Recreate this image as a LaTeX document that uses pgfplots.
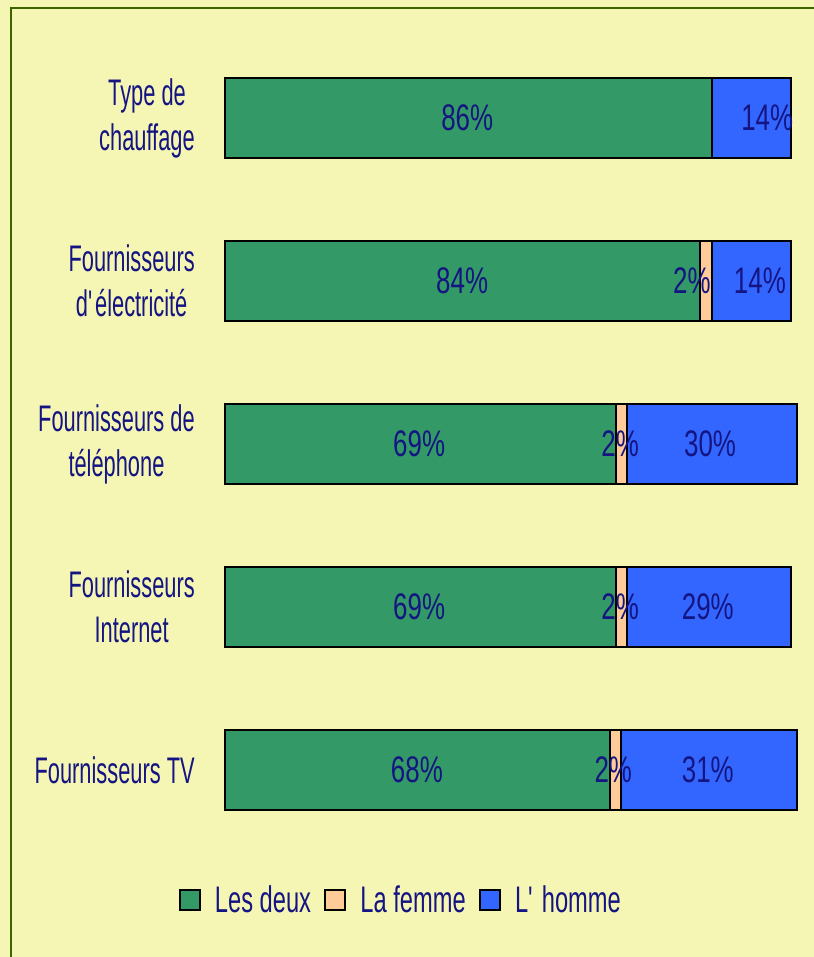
\documentclass[border=0pt]{standalone}
\usepackage{pgfplots}
\usepackage{pgfplotstable}
\pgfplotsset{compat=1.18}
\usepackage{fontspec}
\setmainfont{Liberation Sans}[FakeStretch=0.59]
\newfontfamily\labfont{Liberation Sans}[FakeStretch=0.70]
\newfontfamily\legfont{Liberation Sans}[FakeStretch=0.64]
\definecolor{bg}{RGB}{246,246,180}
\definecolor{framec}{RGB}{60,100,0}
\definecolor{cgreen}{RGB}{51,153,102}
\definecolor{cpeach}{RGB}{255,204,153}
\definecolor{cblue}{RGB}{51,102,255}
\definecolor{txt}{RGB}{20,20,130}
\newcommand{\fsz}{\fontsize{27.75pt}{33.75pt}\selectfont}

\pgfplotstableread{
y deux femme homme
0 86 0 14
1 84 2 14
2 69 2 30
3 69 2 29
4 68 2 31
}\bars

\pgfplotstableread{
x y lab
42.8 0 86
95.8 0 14
41.9 1 84
82.5 1 2
94.5 1 14
34.3 2 69
69.8 2 2
85.7 2 30
34.3 3 69
69.8 3 2
85.3 3 29
33.9 4 68
68.6 4 2
85.3 4 31
}\labels

\begin{document}
\begin{tikzpicture}
\useasboundingbox (0pt,0pt) rectangle (610.5pt,-717.75pt);
\fill[bg] (0pt,0pt) rectangle (610.5pt,-717.75pt);
\draw[framec, line width=1.6pt] (8.25pt,-6pt) rectangle (640pt,-760pt);
\begin{axis}[
  at={(168.75pt,-27.375pt)}, anchor=north west,
  scale only axis, width=424.5pt, height=611.25pt,
  xmin=0, xmax=100, ymin=-0.5, ymax=4.5, y dir=reverse,
  xbar stacked, bar width=0.49,
  axis line style={draw=none},
  xtick=\empty, ytick={0,...,4},
  yticklabels={{Type de\\chauffage},{Fournisseurs\\d\textquotesingle{}électricité},{Fournisseurs de\\téléphone},{Fournisseurs\\Internet},{Fournisseurs TV}},
  major tick length=0pt,
  yticklabel style={align=center, font=\fsz, text=txt, inner sep=0pt, xshift=-22.5pt},
  clip=false,
  legend columns=3,
  legend style={at={(0.309,-0.0595)}, anchor=center, draw=none, fill=none,
    font=\fsz\legfont, text=txt,
    nodes={inner sep=0pt},
    /tikz/every odd column/.append style={column sep=10.5pt},
    /tikz/every even column/.append style={column sep=10pt}},
  legend image code/.code={\draw[#1, draw=black, line width=1.5pt] (0pt,-7.5pt) rectangle (15pt,7.5pt);},
]
\addplot[fill=cgreen, draw=black, line width=1.5pt] table[x=deux, y=y]{\bars};
\addplot[fill=cpeach, draw=black, line width=1.5pt] table[x=femme, y=y]{\bars};
\addplot[fill=cblue, draw=black, line width=1.5pt] table[x=homme, y=y]{\bars};
\legend{Les deux, La femme, L\textquotesingle{} homme}
\end{axis}
\begin{axis}[
  at={(168.75pt,-27.375pt)}, anchor=north west,
  scale only axis, width=424.5pt, height=611.25pt,
  xmin=0, xmax=100, ymin=-0.5, ymax=4.5, y dir=reverse,
  hide axis, clip=false,
]
\addplot[only marks, mark=*, mark size=0pt, mark options={draw=none, fill=none},
  point meta=explicit symbolic,
  nodes near coords={\pgfplotspointmeta\%},
  every node near coord/.style={anchor=center, font=\fsz\labfont, text=txt, inner sep=0pt}]
  table[x=x, y=y, meta=lab]{\labels};
\end{axis}
\end{tikzpicture}
\end{document}
